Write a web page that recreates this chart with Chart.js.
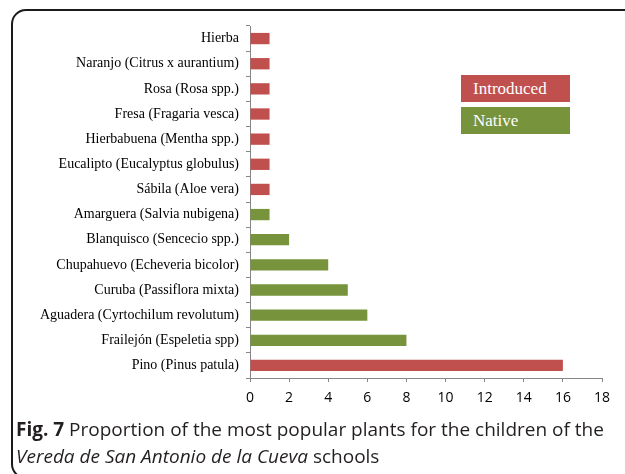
<!DOCTYPE html>
<html>
<head>
<meta charset="utf-8">
<script src="https://cdn.jsdelivr.net/npm/chart.js@4"></script>
<style>
  body { margin: 0; background: #fff; }
  #wrap { position: relative; width: 625px; height: 474px; overflow: hidden; }
  #frame { position: absolute; left: 11px; top: 9px; width: 650px; height: 470px;
           border: 2px solid #1a1a1a; border-radius: 15px; box-sizing: border-box; }
  #chartBox { position: absolute; left: 0; top: 0; width: 625px; height: 420px; }
  .leg { position: absolute; left: 461px; width: 109px; height: 27px; color: #fff;
         font-family: "Liberation Serif", serif; font-size: 17px; line-height: 27px;
         box-sizing: border-box; padding-left: 12px; }
  #caption { position: absolute; left: 16px; top: 416px; width: 610px;
             font-family: "Open Sans", sans-serif; font-size: 19px; line-height: 27px; color: #231f20; }
</style>
</head>
<body>
<div id="wrap">
  <div id="frame"></div>
  <div id="chartBox"><canvas id="myChart"></canvas></div>
  <div class="leg" style="top:75px;background:#C0504D">Introduced</div>
  <div class="leg" style="top:107px;background:#77933C">Native</div>
  <div id="caption"><b>Fig. 7</b> Proportion of the most popular plants for the children of the <i>Vereda de San Antonio de la Cueva</i> schools</div>
</div>
<script>
const ctx = document.getElementById('myChart');

var plantas = ['Hierba', 'Naranjo (Citrus x aurantium)', 'Rosa (Rosa spp.)', 'Fresa (Fragaria vesca)',
  'Hierbabuena (Mentha spp.)', 'Eucalipto (Eucalyptus globulus)', 'Sábila (Aloe vera)',
  'Amarguera (Salvia nubigena)', 'Blanquisco (Sencecio spp.)', 'Chupahuevo (Echeveria bicolor)',
  'Curuba (Passiflora mixta)', 'Aguadera (Cyrtochilum revolutum)', 'Frailejón (Espeletia spp)', 'Pino (Pinus patula)'];
var votos = [1, 1, 1, 1, 1, 1, 1, 1, 2, 4, 5, 6, 8, 16];
var origem = ['Introduced', 'Introduced', 'Introduced', 'Introduced', 'Introduced', 'Introduced', 'Introduced',
  'Native', 'Native', 'Native', 'Native', 'Native', 'Native', 'Introduced'];

var cores = { Introduced: '#C0504D', Native: '#77933C' };

new Chart(ctx, {
    type: 'bar',
    data: {
        labels: plantas,
        datasets: [{
            label: 'Plantas',
            data: votos,
            backgroundColor: origem.map(o => cores[o]),
            categoryPercentage: 1,
            barPercentage: 0.45
        }]
    },
    options: {
        indexAxis: 'y',
        responsive: true,
        maintainAspectRatio: false,
        animation: false,
        layout: { padding: { top: 26, right: 23, bottom: 12, left: 0 } },
        plugins: {
            legend: { display: false },
            tooltip: { enabled: false }
        },
        scales: {
            y: {
                afterFit: s => { s.width = 250; },
                grid: { drawOnChartArea: false, color: '#868686', tickLength: 4 },
                border: { color: '#868686' },
                ticks: {
                    color: '#000',
                    padding: 7,
                    font: { family: 'Liberation Serif', size: 14 }
                }
            },
            x: {
                min: 0,
                max: 18,
                afterFit: s => { s.height = 30; },
                grid: { drawOnChartArea: false, color: '#868686', tickLength: 4 },
                border: { color: '#868686' },
                ticks: {
                    stepSize: 2,
                    color: '#000',
                    padding: 8,
                    font: { family: 'Open Sans', size: 14 }
                }
            }
        }
    }
});
</script>
</body>
</html>
